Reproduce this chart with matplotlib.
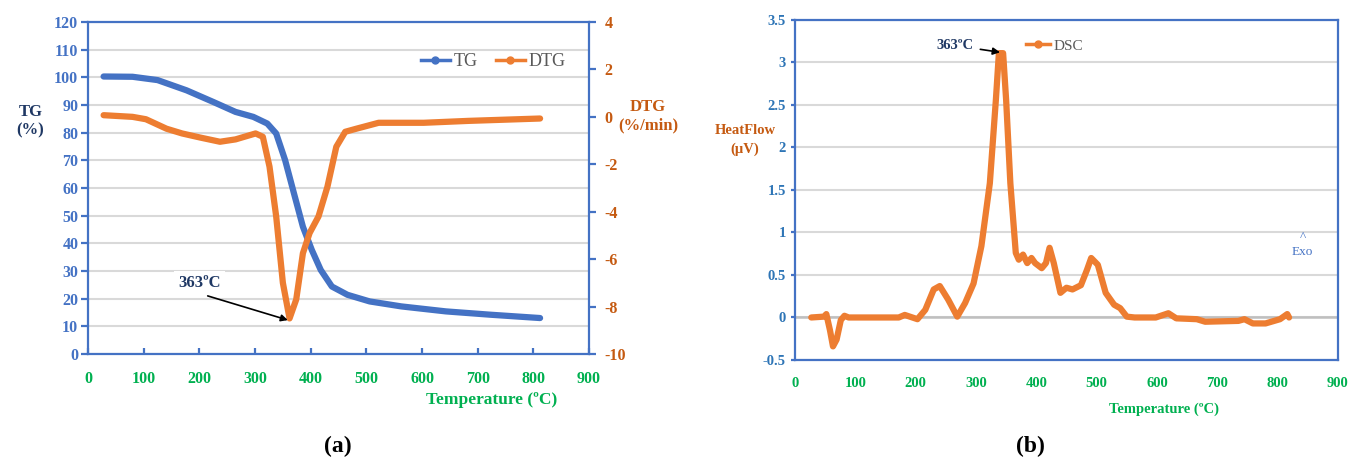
"""Recreate the TG/DTG and DSC thermal analysis panels."""

import matplotlib.pyplot as plt
from matplotlib.lines import Line2D

plt.rcParams["font.family"] = ["Liberation Serif", "DejaVu Serif"]
plt.rcParams["axes.unicode_minus"] = False

# TG curve (%) vs temperature (C)
tg_temp = [28, 80, 125, 177, 225, 265, 297, 322, 338, 354, 370, 386, 402,
           418, 438, 466, 506, 563, 643, 723, 812]
tg_vals = [100.3, 100.2, 99.0, 95.3, 91.1, 87.5, 85.7, 83.3, 79.7, 70.1, 58.0,
           46.0, 37.6, 30.4, 24.4, 21.4, 19.0, 17.2, 15.4, 14.2, 13.0]

# DTG curve (%/min)
dtg_temp = [28, 80, 104, 141, 169, 201, 237, 265, 301, 314, 326, 338, 350,
            362, 374, 386, 398, 414, 430, 446, 462, 482, 522, 603, 683, 812]
dtg_vals = [0.07, 0.0, -0.1, -0.5, -0.7, -0.87, -1.05, -0.95, -0.7, -0.84,
            -2.1, -4.2, -7.0, -8.5, -7.7, -5.75, -4.9, -4.2, -2.95, -1.26,
            -0.63, -0.5, -0.25, -0.25, -0.17, -0.07]

# DSC curve (uV)
dsc_temp = [27, 48, 52, 58, 63, 69, 76, 82, 89, 172, 182, 203, 216, 230, 240,
            254, 269, 282, 296, 309, 323, 333, 338, 345, 350, 357, 366, 371,
            378, 385, 392, 398, 409, 416, 422, 429, 440, 450, 460, 474, 484,
            491, 502, 515, 529, 539, 550, 563, 598, 619, 632, 666, 680, 735,
            745, 759, 780, 804, 816, 819]
dsc_vals = [0.0, 0.01, 0.04, -0.15, -0.34, -0.26, -0.03, 0.02, 0.0, 0.0, 0.03,
            -0.02, 0.09, 0.33, 0.37, 0.21, 0.01, 0.17, 0.4, 0.84, 1.58, 2.56,
            3.11, 3.11, 2.56, 1.58, 0.76, 0.68, 0.74, 0.64, 0.7, 0.64, 0.58,
            0.64, 0.82, 0.64, 0.29, 0.35, 0.33, 0.38, 0.56, 0.7, 0.62, 0.29,
            0.15, 0.11, 0.01, 0.0, 0.0, 0.05, -0.01, -0.02, -0.05, -0.04,
            -0.02, -0.07, -0.07, -0.02, 0.04, 0.0]

BLUE = "#4472C4"
ORANGE = "#ED7D31"
GREEN = "#00B050"
NAVY = "#1F3864"
BROWN = "#C55A11"
GRID = "#D9D9D9"

LINE = dict(linewidth=4.5, solid_capstyle="round", solid_joinstyle="round")


def style_frame(ax):
    for s in ax.spines.values():
        s.set_color(BLUE)
        s.set_linewidth(1.6)
    ax.grid(axis="y", color=GRID, linewidth=1.5)
    ax.set_axisbelow(True)


def legend_handle(color):
    return Line2D([], [], color=color, linewidth=2.5, marker="o", markersize=5)


fig = plt.figure(figsize=(13.52, 4.63), dpi=100)

# ---------- (a) TG / DTG ----------
ax1 = fig.add_axes([0.0651, 0.2354, 0.3706, 0.7171])
style_frame(ax1)
ax1.plot(tg_temp, tg_vals, color=BLUE, zorder=3, **LINE)
ax1.set_xlim(0, 900)
ax1.set_ylim(0, 120)
ax1.set_xticks(range(0, 901, 100))
ax1.set_yticks(range(0, 121, 10))
ax1.tick_params(axis="y", colors=BLUE, labelsize=11.5, width=1.6, length=5,
                direction="out", pad=2)
ax1.tick_params(axis="x", colors=BLUE, labelcolor=GREEN, labelsize=11.5,
                width=1.6, length=4, direction="in", pad=12)
for lab in ax1.get_xticklabels() + ax1.get_yticklabels():
    lab.set_fontweight("bold")

ax2 = ax1.twinx()
ax2.plot(dtg_temp, dtg_vals, color=ORANGE, zorder=3, **LINE)
ax2.set_ylim(-10, 4)
ax2.set_yticks(range(-10, 5, 2))
ax2.tick_params(axis="y", colors=BLUE, labelcolor=BROWN, labelsize=11.5,
                width=1.6, length=5, direction="out", pad=6)
for lab in ax2.get_yticklabels():
    lab.set_fontweight("bold")
for s in ax2.spines.values():
    s.set_visible(False)

ax1.text(-0.115, 0.7, "TG\n(%)", transform=ax1.transAxes, ha="center",
         va="center", color=NAVY, fontsize=12, fontweight="bold")
ax1.text(1.118, 0.715, "DTG\n(%/min)", transform=ax1.transAxes, ha="center",
         va="center", color=BROWN, fontsize=12, fontweight="bold")
ax1.text(0.805, -0.14, "Temperature (ºC)", transform=ax1.transAxes,
         ha="center", va="center", color=GREEN, fontsize=12.5,
         fontweight="bold")
ax2.text(201, -7.0, "363ºC", ha="center", va="center", color=NAVY,
         fontsize=12, fontweight="bold", zorder=5,
         bbox=dict(facecolor="white", edgecolor="none", pad=3))
ax2.annotate("", xy=(359, -8.57), xytext=(215, -7.55),
             arrowprops=dict(arrowstyle="-|>", color="black", lw=1.2,
                             shrinkA=0, shrinkB=0), zorder=5)
ax2.legend([legend_handle(BLUE), legend_handle(ORANGE)], ["TG", "DTG"],
           loc="upper right", bbox_to_anchor=(0.985, 0.955), ncol=2,
           frameon=False, handlelength=1.6, columnspacing=1.0,
           handletextpad=0.2, labelcolor="#595959", fontsize=13)

# ---------- (b) DSC ----------
ax3 = fig.add_axes([0.588, 0.2225, 0.4016, 0.7343])
style_frame(ax3)
ax3.axhline(0, color="#BFBFBF", linewidth=1.8, zorder=1)
ax3.plot(dsc_temp, dsc_vals, color=ORANGE, zorder=3, **LINE)
ax3.set_xlim(0, 900)
ax3.set_ylim(-0.5, 3.5)
ax3.set_xticks(range(0, 901, 100))
ax3.set_yticks([-0.5, 0, 0.5, 1, 1.5, 2, 2.5, 3, 3.5])
ax3.set_yticklabels(["-0.5", "0", "0.5", "1", "1.5", "2", "2.5", "3", "3.5"])
ax3.tick_params(axis="y", colors=BLUE, labelcolor="#2E75B6", labelsize=10.5,
                width=1.6, length=3, direction="out")
ax3.tick_params(axis="x", length=0, labelcolor=GREEN, labelsize=10.5, pad=12)
for lab in ax3.get_xticklabels() + ax3.get_yticklabels():
    lab.set_fontweight("bold")

ax3.text(-0.092, 0.647, "HeatFlow\n(µV)", transform=ax3.transAxes,
         ha="center", va="center", color=BROWN, fontsize=10.5,
         fontweight="bold", linespacing=1.5)
ax3.text(0.68, -0.145, "Temperature (ºC)", transform=ax3.transAxes,
         ha="center", va="center", color=GREEN, fontsize=10.5,
         fontweight="bold")
ax3.text(0.935, 0.34, "^\nExo", transform=ax3.transAxes, ha="center",
         va="center", color=BLUE, fontsize=9.5, linespacing=1.4)
ax3.annotate("363ºC", xy=(340, 3.12), xytext=(265, 3.2), ha="center",
             va="center", color=NAVY, fontsize=10.5, fontweight="bold",
             arrowprops=dict(arrowstyle="-|>", color="black", lw=1.2,
                             shrinkA=3, shrinkB=0), zorder=5)
ax3.legend([legend_handle(ORANGE)], ["DSC"], loc="upper left",
           bbox_to_anchor=(0.4, 0.985), frameon=False, handlelength=1.6,
           handletextpad=0.2, labelcolor="#595959", fontsize=11)

fig.text(0.25, 0.035, "(a)", ha="center", va="center", fontsize=17,
         fontweight="bold")
fig.text(0.762, 0.035, "(b)", ha="center", va="center", fontsize=17,
         fontweight="bold")

fig.savefig("out.png", dpi=100)
